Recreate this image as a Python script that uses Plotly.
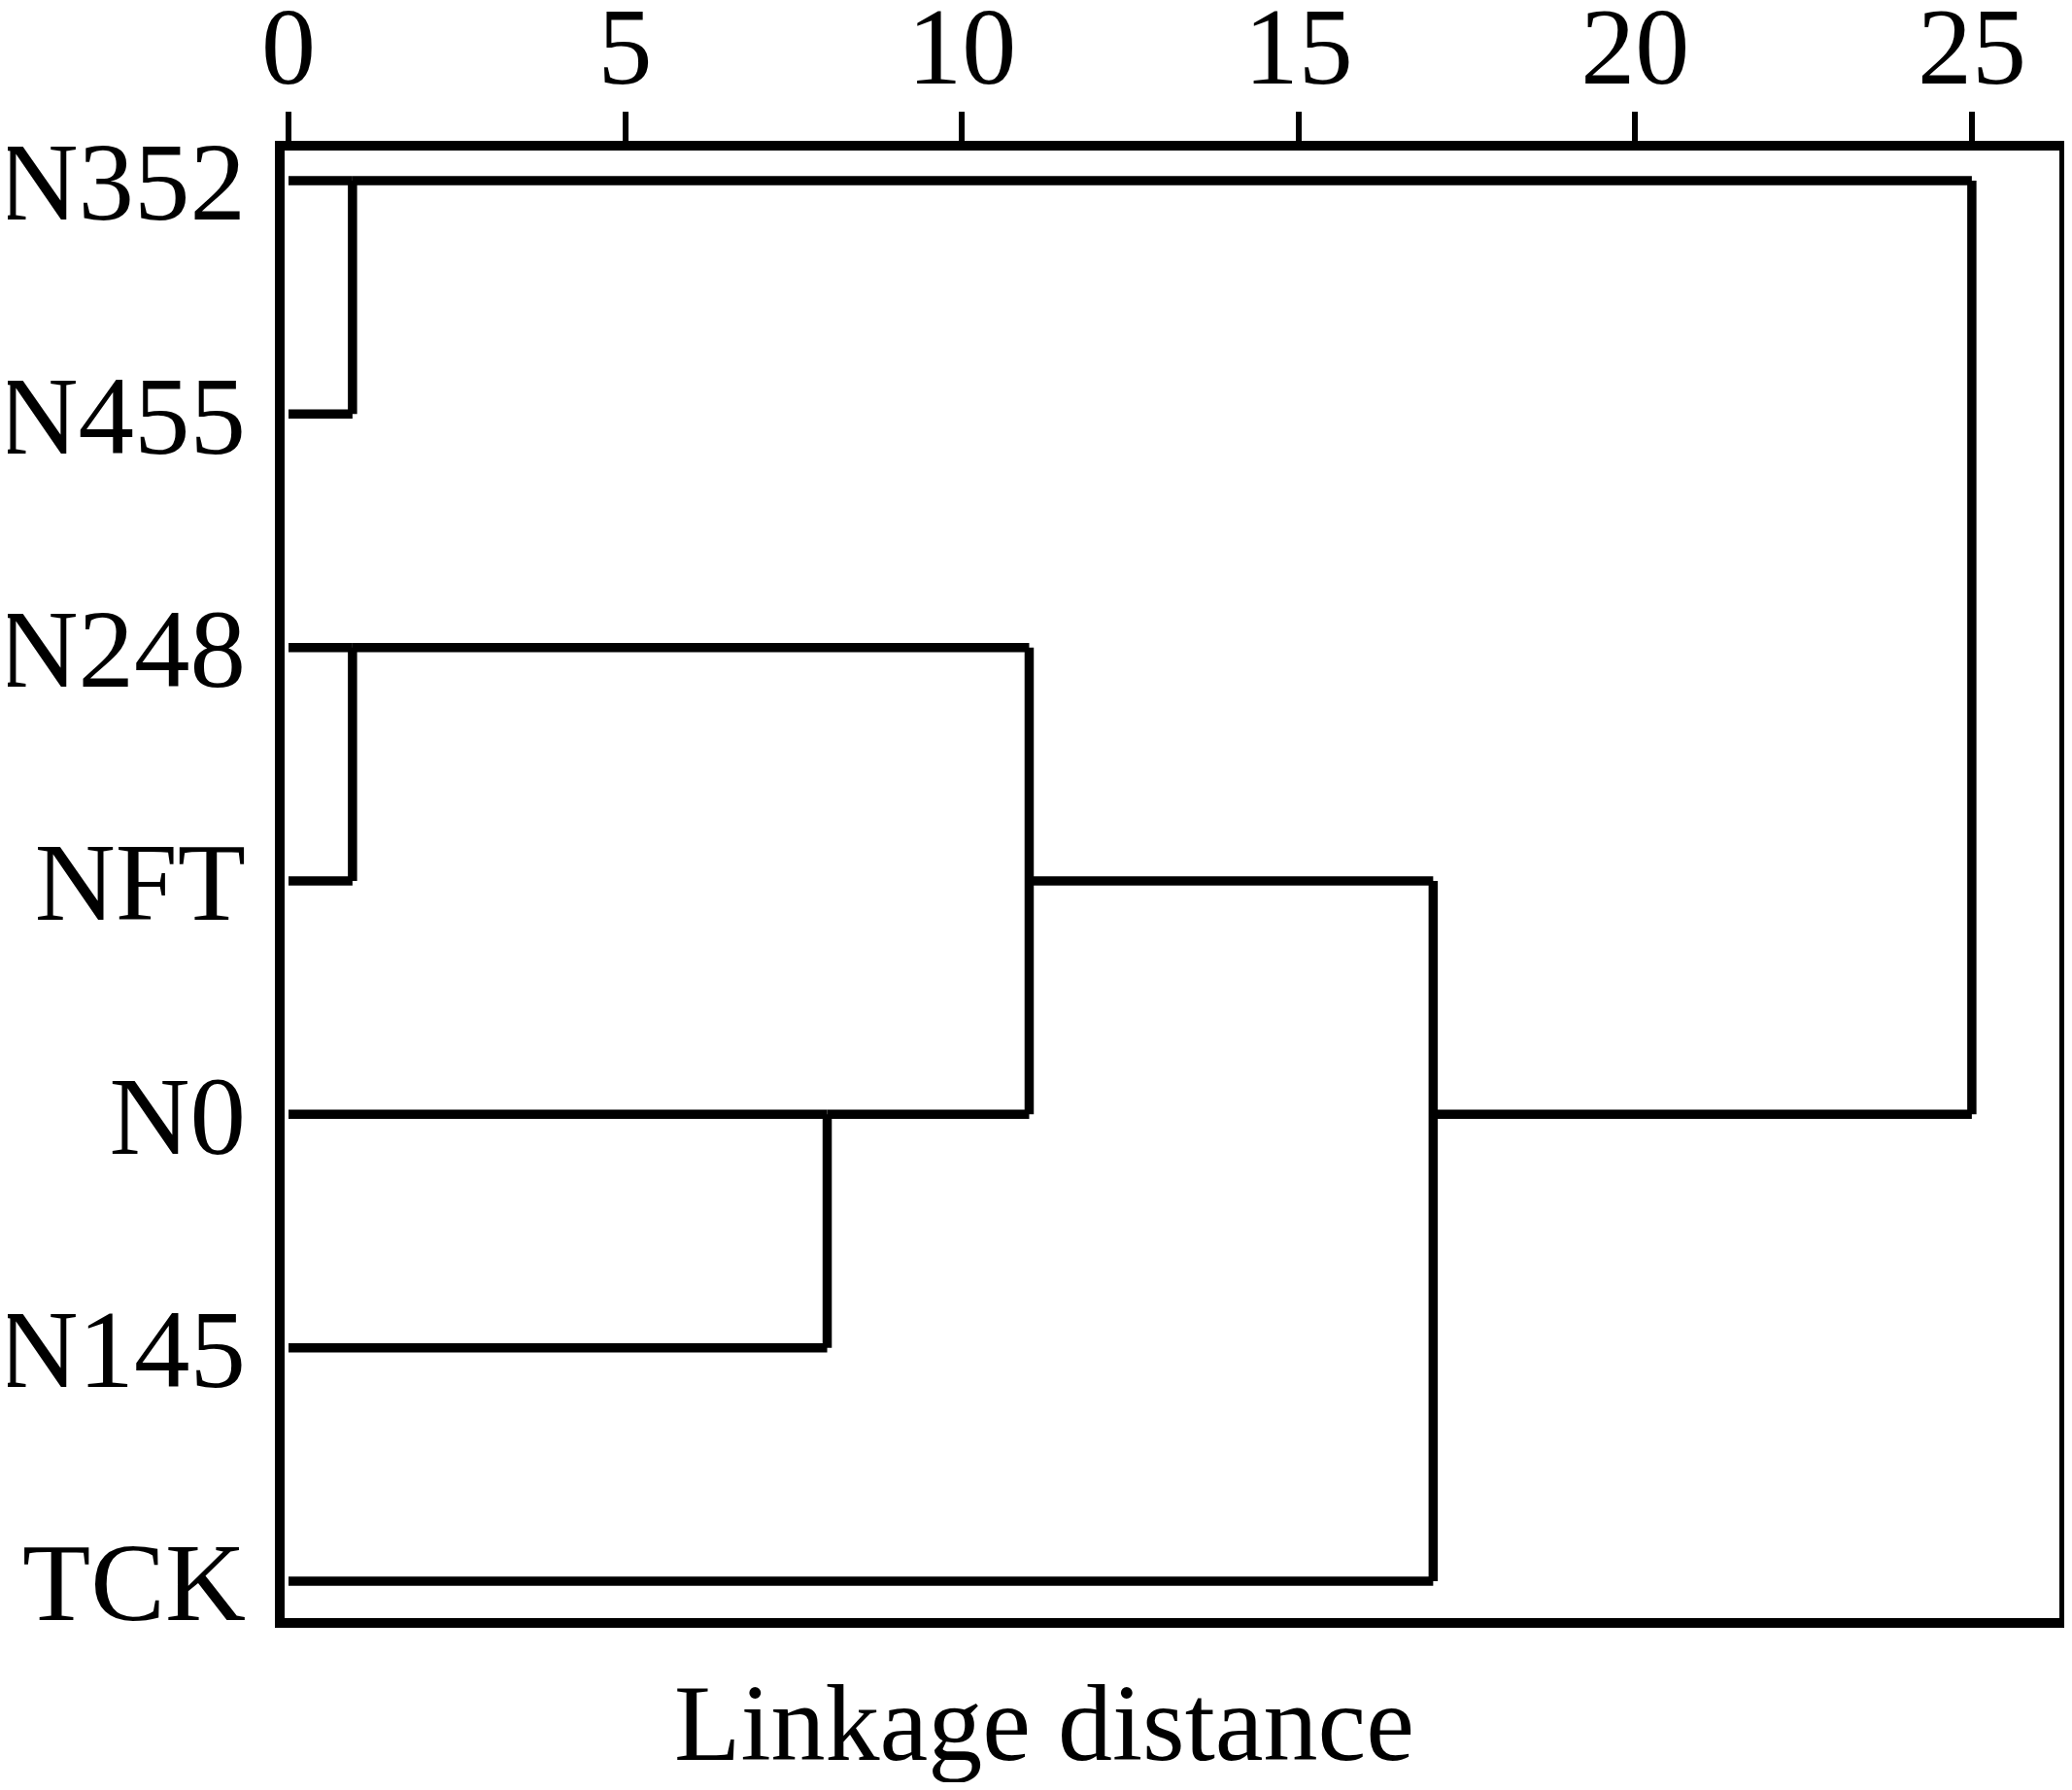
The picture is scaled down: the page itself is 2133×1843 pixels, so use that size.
import plotly.graph_objects as go

# ---- data ----
leaves = ["N352", "N455", "N248", "NFT", "N0", "N145", "TCK"]
merge_names = ["C1", "C2", "C3", "C4", "C5", "C6"]
merge_left = ["N352", "N248", "N0", "C2", "C4", "C1"]
merge_right = ["N455", "NFT", "N145", "C3", "TCK", "C5"]
merge_dist = [0.95, 0.95, 8.0, 11.0, 17.0, 25.0]
x_ticks = [0, 5, 10, 15, 20, 25]
x_title = "Linkage distance"

# ---- build dendrogram segments ----
row = {name: i for i, name in enumerate(leaves)}
height = {name: 0.0 for name in leaves}
span = {name: (i, i) for i, name in enumerate(leaves)}

xs, ys = [], []
for name, a, b, d in zip(merge_names, merge_left, merge_right, merge_dist):
    for child in (a, b):
        xs += [height[child], d, None]
        ys += [row[child], row[child], None]
    xs += [d, d, None]
    ys += [row[a], row[b], None]
    lo = min(span[a][0], span[b][0])
    hi = max(span[a][1], span[b][1])
    span[name] = (lo, hi)
    row[name] = (lo + hi) // 2
    height[name] = d

FONT = "Liberation Serif, Times New Roman, serif"

fig = go.Figure()
fig.add_trace(go.Scatter(
    x=xs, y=ys, mode="lines",
    line=dict(color="black", width=9.5),
    hoverinfo="skip", showlegend=False,
))

# page body has an 8px default margin; size the figure so it fits without scrollbars
fig.update_layout(
    width=2117, height=1827,
    margin=dict(l=285, r=5, t=147, b=169, autoexpand=False),
    paper_bgcolor="white", plot_bgcolor="white",
    font=dict(family=FONT, color="black"),
    annotations=[dict(
        text=x_title, xref="paper", yref="paper",
        x=0.428, y=-0.0715, xanchor="center", yanchor="middle",
        showarrow=False, font=dict(family=FONT, size=112, color="black"),
    )],
)

fig.update_xaxes(
    range=[-0.058, 26.3], side="top", automargin=False,
    tickmode="array", tickvals=x_ticks, ticktext=[str(t) for t in x_ticks],
    ticks="outside", ticklen=30, tickwidth=6, tickcolor="black",
    ticklabelstandoff=-16,
    tickfont=dict(family=FONT, size=112, color="black"),
    showline=True, linewidth=10, linecolor="black", mirror=True,
    showgrid=False, zeroline=False,
)
fig.update_yaxes(
    range=[6.158, -0.129], automargin=False,
    tickmode="array", tickvals=list(range(len(leaves))), ticktext=leaves,
    ticks="", ticklabelstandoff=7,
    tickfont=dict(family=FONT, size=115, color="black"),
    showline=True, linewidth=10, linecolor="black", mirror=True,
    showgrid=False, zeroline=False,
)

fig.write_html("out.html")
